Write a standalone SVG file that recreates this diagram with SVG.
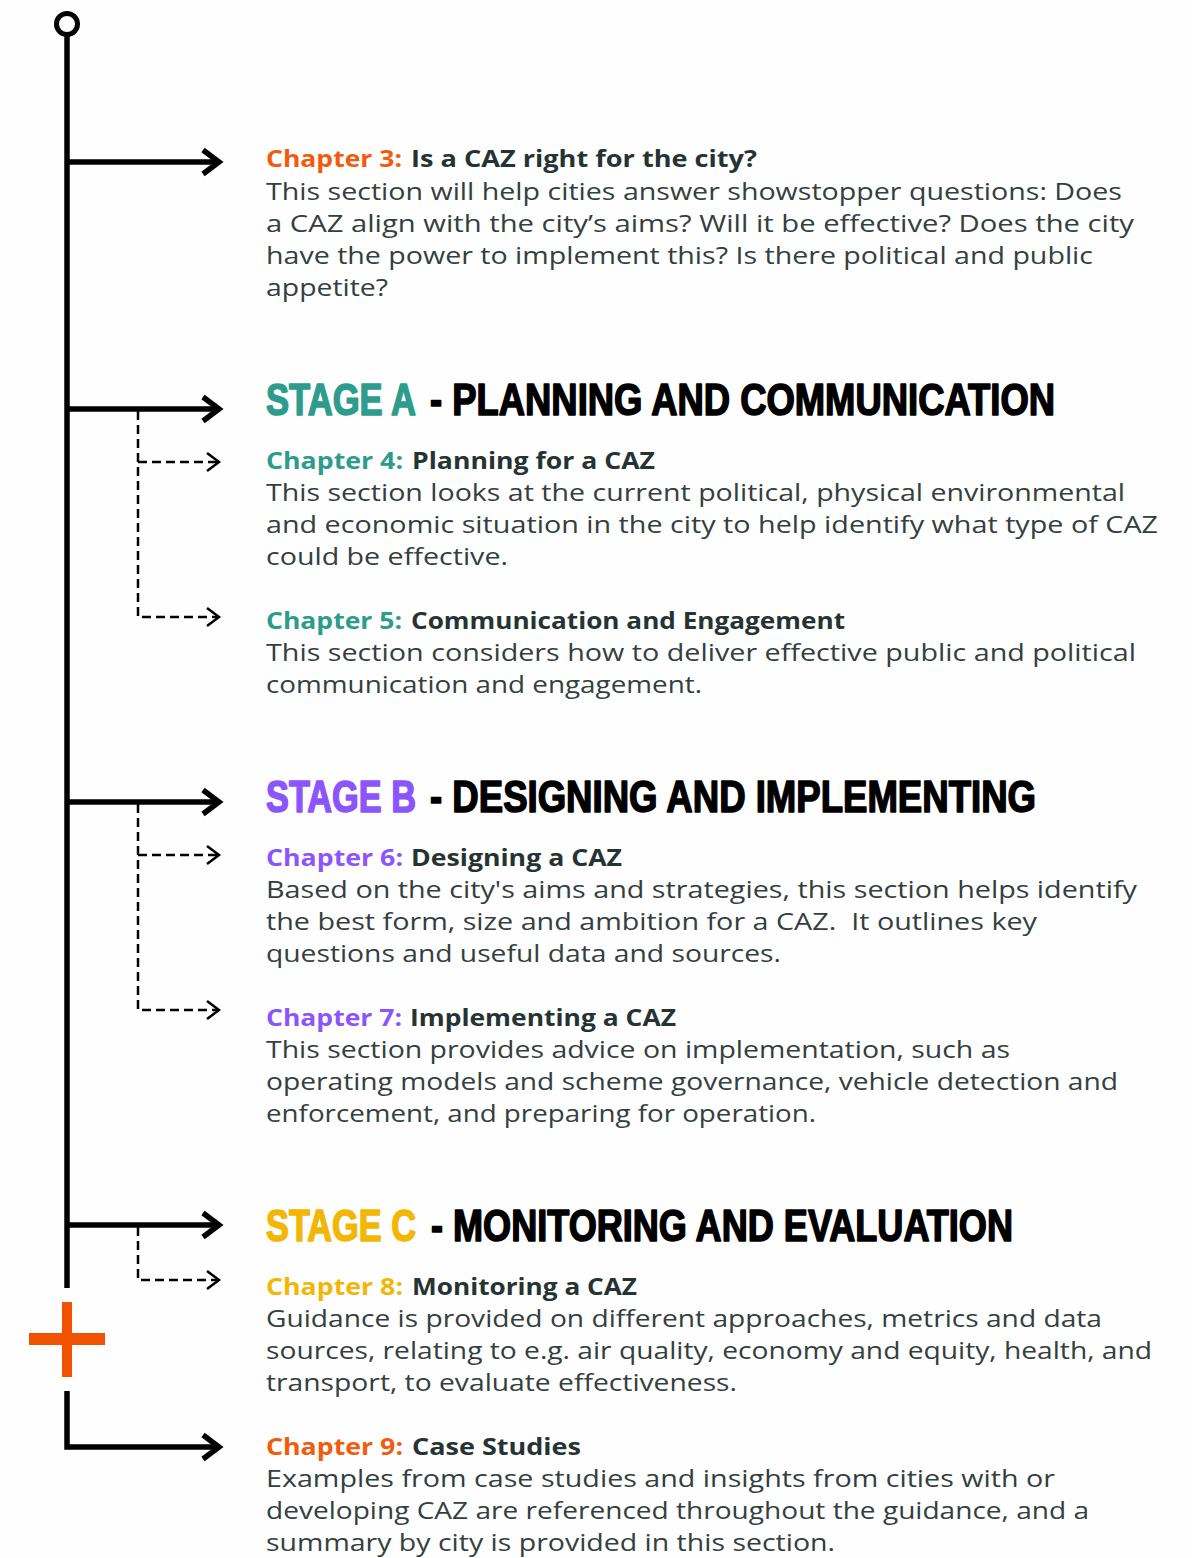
<svg xmlns="http://www.w3.org/2000/svg" width="1192" height="1558" viewBox="0 0 1192 1558">
  <style>
    .body { font-family: "Open Sans", "Liberation Sans", sans-serif; font-size: 24px; fill: #343f3f; white-space: pre; }
    .chap { font-family: "Open Sans", "Liberation Sans", sans-serif; font-size: 23px; font-weight: 700; }
    .title { fill: #263333; }
    .stage { font-family: "Liberation Sans", "Arial", sans-serif; font-size: 35.6px; font-weight: 700; white-space: pre; stroke-width: 1.3; stroke-linejoin: round; }
    .dark { fill: #000000; }
    .orange { fill: #f25a0c; }
    .teal { fill: #2e9c8d; }
    .purple { fill: #8c55fb; }
    .yellow { fill: #f2b705; }
    .stage.dark { stroke: #000000; }
    .stage.teal { stroke: #2e9c8d; }
    .stage.purple { stroke: #8c55fb; }
    .stage.yellow { stroke: #f2b705; }
    .main { fill: none; stroke: #000; stroke-width: 5.5; stroke-linejoin: miter; }
    .head { fill: none; stroke: #000; stroke-width: 5.5; stroke-linecap: butt; stroke-linejoin: miter; }
    .dash { fill: none; stroke: #000; stroke-width: 2.5; stroke-dasharray: 9 5; }
    .dhead { fill: none; stroke: #000; stroke-width: 2.5; stroke-linejoin: miter; }
  </style>
  <defs>
    <!-- bold chevron for the main branches -->
    <path id="chev" d="M-16,-12 L0,0 L-16,12" class="head"/>
    <!-- thin chevron for the dashed sub-branches -->
    <path id="chevs" d="M-12,-9 L0,0 L-12,9" class="dhead"/>
  </defs>
  <rect width="1192" height="1558" fill="#fefefe"/>

  <g id="connectors">
    <!-- spine with start ring -->
    <circle cx="67" cy="24" r="10.5" fill="none" stroke="#000" stroke-width="5"/>
    <line x1="67" y1="35" x2="67" y2="1288" class="main"/>
    <path d="M67,1391 L67,1447 L217,1447" class="main"/>

    <!-- main branches -->
    <line x1="67" y1="162" x2="217" y2="162" class="main"/>
    <use href="#chev" x="219" y="162"/>
    <line x1="67" y1="409" x2="217" y2="409" class="main"/>
    <use href="#chev" x="219" y="409"/>
    <line x1="67" y1="802" x2="217" y2="802" class="main"/>
    <use href="#chev" x="219" y="802"/>
    <line x1="67" y1="1225" x2="217" y2="1225" class="main"/>
    <use href="#chev" x="219" y="1225"/>
    <use href="#chev" x="219" y="1447"/>

    <!-- Stage A sub-branches -->
    <path d="M138,411 L138,617 L217,617" class="dash"/>
    <line x1="138" y1="462" x2="217" y2="462" class="dash"/>
    <use href="#chevs" x="219" y="462"/>
    <use href="#chevs" x="219" y="617"/>

    <!-- Stage B sub-branches -->
    <path d="M138,804 L138,1010 L217,1010" class="dash"/>
    <line x1="138" y1="855" x2="217" y2="855" class="dash"/>
    <use href="#chevs" x="219" y="855"/>
    <use href="#chevs" x="219" y="1010"/>

    <!-- Stage C sub-branch -->
    <path d="M138,1227 L138,1280 L217,1280" class="dash"/>
    <use href="#chevs" x="219" y="1280"/>
  </g>

  <!-- plus marker on the spine -->
  <g id="plus" fill="#f25100">
    <rect x="62" y="1302" width="10" height="75"/>
    <rect x="29" y="1333" width="76" height="12"/>
  </g>

  <g id="chapter3">
    <text x="266" y="167" class="chap orange" textLength="136" lengthAdjust="spacingAndGlyphs">Chapter 3:</text>
    <text x="411" y="167" class="chap title" textLength="346" lengthAdjust="spacingAndGlyphs">Is a CAZ right for the city?</text>
    <text x="266" y="200" class="body" textLength="856" lengthAdjust="spacingAndGlyphs">This section will help cities answer showstopper questions: Does</text>
    <text x="266" y="232" class="body" textLength="868" lengthAdjust="spacingAndGlyphs">a CAZ align with the city’s aims? Will it be effective? Does the city</text>
    <text x="266" y="264" class="body" textLength="827" lengthAdjust="spacingAndGlyphs">have the power to implement this? Is there political and public</text>
    <text x="266" y="296" class="body" textLength="122" lengthAdjust="spacingAndGlyphs">appetite?</text>
  </g>

  <!-- stage headings: tall condensed caps made by stretching bold sans vertically -->
  <g id="stageA">
    <text transform="translate(266 415) scale(1 1.26)" class="stage teal" textLength="150" lengthAdjust="spacingAndGlyphs">STAGE A</text>
    <text transform="translate(430 415) scale(1 1.26)" class="stage dark" textLength="625" lengthAdjust="spacingAndGlyphs">- PLANNING AND COMMUNICATION</text>
  </g>

  <g id="chapter4">
    <text x="266" y="469" class="chap teal" textLength="137" lengthAdjust="spacingAndGlyphs">Chapter 4:</text>
    <text x="412" y="469" class="chap title" textLength="243" lengthAdjust="spacingAndGlyphs">Planning for a CAZ</text>
    <text x="266" y="501" class="body" textLength="859" lengthAdjust="spacingAndGlyphs">This section looks at the current political, physical environmental</text>
    <text x="266" y="533" class="body" textLength="892" lengthAdjust="spacingAndGlyphs">and economic situation in the city to help identify what type of CAZ</text>
    <text x="266" y="565" class="body" textLength="242" lengthAdjust="spacingAndGlyphs">could be effective.</text>
  </g>

  <g id="chapter5">
    <text x="266" y="629" class="chap teal" textLength="136" lengthAdjust="spacingAndGlyphs">Chapter 5:</text>
    <text x="411" y="629" class="chap title" textLength="434" lengthAdjust="spacingAndGlyphs">Communication and Engagement</text>
    <text x="266" y="661" class="body" textLength="870" lengthAdjust="spacingAndGlyphs">This section considers how to deliver effective public and political</text>
    <text x="266" y="693" class="body" textLength="436" lengthAdjust="spacingAndGlyphs">communication and engagement.</text>
  </g>

  <g id="stageB">
    <text transform="translate(266 812) scale(1 1.26)" class="stage purple" textLength="150" lengthAdjust="spacingAndGlyphs">STAGE B</text>
    <text transform="translate(430 812) scale(1 1.26)" class="stage dark" textLength="606" lengthAdjust="spacingAndGlyphs">- DESIGNING AND IMPLEMENTING</text>
  </g>

  <g id="chapter6">
    <text x="266" y="866" class="chap purple" textLength="137" lengthAdjust="spacingAndGlyphs">Chapter 6:</text>
    <text x="411" y="866" class="chap title" textLength="211" lengthAdjust="spacingAndGlyphs">Designing a CAZ</text>
    <text x="266" y="898" class="body" textLength="871" lengthAdjust="spacingAndGlyphs">Based on the city's aims and strategies, this section helps identify</text>
    <text x="266" y="930" class="body" textLength="771" lengthAdjust="spacingAndGlyphs">the best form, size and ambition for a CAZ.  It outlines key</text>
    <text x="266" y="962" class="body" textLength="515" lengthAdjust="spacingAndGlyphs">questions and useful data and sources.</text>
  </g>

  <g id="chapter7">
    <text x="266" y="1026" class="chap purple" textLength="136" lengthAdjust="spacingAndGlyphs">Chapter 7:</text>
    <text x="410" y="1026" class="chap title" textLength="266" lengthAdjust="spacingAndGlyphs">Implementing a CAZ</text>
    <text x="266" y="1058" class="body" textLength="744" lengthAdjust="spacingAndGlyphs">This section provides advice on implementation, such as</text>
    <text x="266" y="1090" class="body" textLength="852" lengthAdjust="spacingAndGlyphs">operating models and scheme governance, vehicle detection and</text>
    <text x="266" y="1122" class="body" textLength="550" lengthAdjust="spacingAndGlyphs">enforcement, and preparing for operation.</text>
  </g>

  <g id="stageC">
    <text transform="translate(266 1241) scale(1 1.26)" class="stage yellow" textLength="150" lengthAdjust="spacingAndGlyphs">STAGE C</text>
    <text transform="translate(431 1241) scale(1 1.26)" class="stage dark" textLength="582" lengthAdjust="spacingAndGlyphs">- MONITORING AND EVALUATION</text>
  </g>

  <g id="chapter8">
    <text x="266" y="1295" class="chap yellow" textLength="137" lengthAdjust="spacingAndGlyphs">Chapter 8:</text>
    <text x="412" y="1295" class="chap title" textLength="225" lengthAdjust="spacingAndGlyphs">Monitoring a CAZ</text>
    <text x="266" y="1327" class="body" textLength="836" lengthAdjust="spacingAndGlyphs">Guidance is provided on different approaches, metrics and data</text>
    <text x="266" y="1359" class="body" textLength="886" lengthAdjust="spacingAndGlyphs">sources, relating to e.g. air quality, economy and equity, health, and</text>
    <text x="266" y="1391" class="body" textLength="471" lengthAdjust="spacingAndGlyphs">transport, to evaluate effectiveness.</text>
  </g>

  <g id="chapter9">
    <text x="266" y="1455" class="chap orange" textLength="137" lengthAdjust="spacingAndGlyphs">Chapter 9:</text>
    <text x="412" y="1455" class="chap title" textLength="169" lengthAdjust="spacingAndGlyphs">Case Studies</text>
    <text x="266" y="1487" class="body" textLength="789" lengthAdjust="spacingAndGlyphs">Examples from case studies and insights from cities with or</text>
    <text x="266" y="1519" class="body" textLength="823" lengthAdjust="spacingAndGlyphs">developing CAZ are referenced throughout the guidance, and a</text>
    <text x="266" y="1551" class="body" textLength="569" lengthAdjust="spacingAndGlyphs">summary by city is provided in this section.</text>
  </g>
</svg>
